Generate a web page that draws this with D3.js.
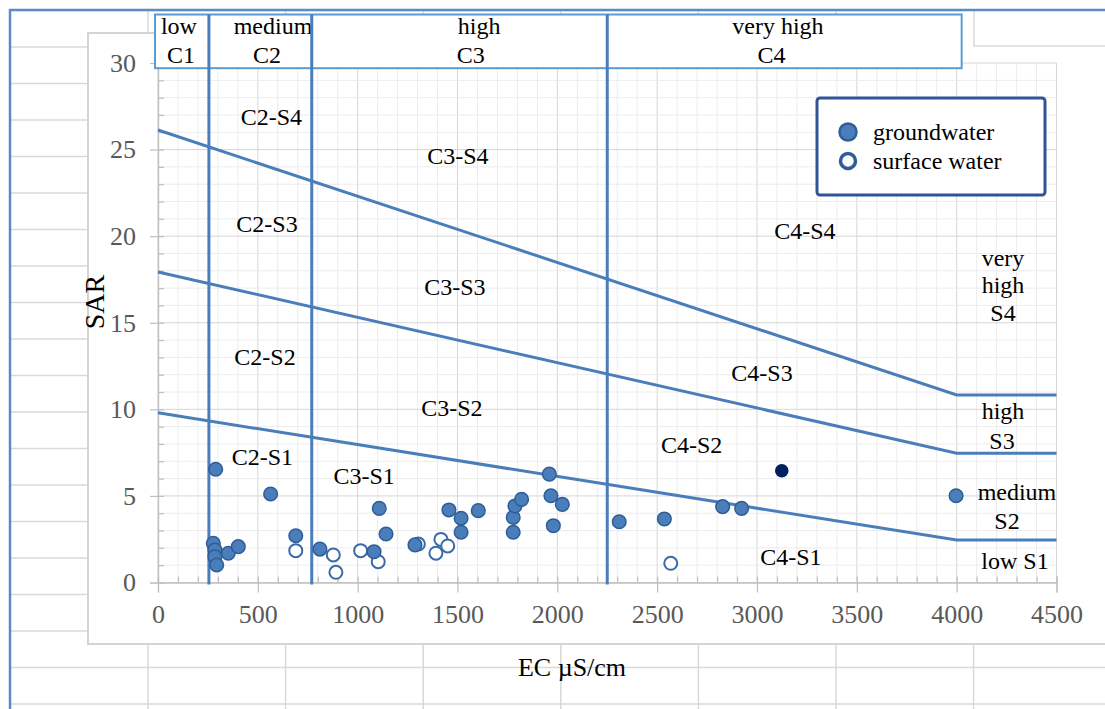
<!DOCTYPE html>
<html>
<head>
<meta charset="utf-8">
<script src="https://cdn.jsdelivr.net/npm/d3@7"></script>
<style>
  body { margin: 0; background: #fff; }
  svg { display: block; }
  text { font-family: "Liberation Serif", "Times New Roman", serif; }
</style>
</head>
<body>
<svg id="chart" width="1105" height="709"></svg>
<script>
// 数据：EC (µS/cm), SAR
const groundwater = [
  [289, 6.54], [564, 5.11], [690, 2.70], [811, 1.93],
  [277, 2.26], [285, 1.88], [285, 1.49], [294, 1.01], [352, 1.69], [402, 2.07],
  [1082, 1.78], [1108, 4.28], [1142, 2.80], [1287, 2.17],
  [1457, 4.19], [1518, 3.71], [1518, 2.90], [1604, 4.15],
  [1779, 3.76], [1788, 4.42], [1821, 4.80], [1779, 2.90],
  [1960, 6.26], [1968, 5.01], [2025, 4.51], [1980, 3.28],
  [2310, 3.51], [2536, 3.67], [2828, 4.38], [2923, 4.28], [3997, 5.01]
];
const surfaceWater = [
  [690, 1.84], [878, 1.59], [891, 0.59], [1015, 1.84], [1103, 1.20],
  [1304, 2.22], [1392, 1.69], [1417, 2.49], [1451, 2.11], [2568, 1.11]
];
const highlighted = [[3124, 6.45]];

// 分区边界线
const lineS1S2 = [[0, 9.8], [4000, 2.45], [4500, 2.45]];
const lineS2S3 = [[0, 17.93], [4000, 7.46], [4500, 7.46]];
const lineS3S4 = [[0, 26.13], [4000, 10.83], [4500, 10.83]];
const ecBounds = [255, 770, 2250];

// 顶部盐度等级框
const classBoxEC = [-15, 4025];
const classBoxSAR = [29.7, 32.8];
const classLabels = [
  ["low", 105, 1], ["C1", 115, 2],
  ["medium", 576, 1], ["C2", 546, 2],
  ["high", 1608, 1], ["C3", 1566, 2],
  ["very high", 3105, 1], ["C4", 3073, 2]
];

// 区域标签
const zoneLabels = [
  ["C2-S4", 568, 26.9], ["C2-S3", 546, 20.7], ["C2-S2", 536, 13.02], ["C2-S1", 523, 7.26],
  ["C3-S4", 1502, 24.68], ["C3-S3", 1487, 17.06], ["C3-S2", 1472, 10.08], ["C3-S1", 1032, 6.2],
  ["C4-S4", 3240, 20.35], ["C4-S3", 3025, 12.15], ["C4-S2", 2673, 7.94], ["C4-S1", 3170, 1.47],
  ["very", 4232, 18.79], ["high", 4232, 17.18], ["S4", 4232, 15.56],
  ["high", 4232, 9.90], ["S3", 4227, 8.17],
  ["medium", 4302, 5.23], ["S2", 4252, 3.55], ["low S1", 4292, 1.24]
];

const legendItems = ["groundwater", "surface water"];
const xTickValues = d3.range(0, 4501, 500);
const yTickValues = d3.range(0, 31, 5);

const svg = d3.select("#chart");
const x = d3.scaleLinear().domain([0, 4500]).range([158, 1056.5]);
const y = d3.scaleLinear().domain([0, 30]).range([582.5, 63]);

//表格背景
const sheet = svg.append("g");
d3.range(0, 20).forEach(k => {
  sheet.append("line").attr("x1", 10).attr("x2", 1105)
    .attr("y1", 10.5 + 36.5 * k).attr("y2", 10.5 + 36.5 * k)
    .style("stroke", "#d9d9d9").style("stroke-width", 1.5);
});
d3.range(0, 8).forEach(k => {
  sheet.append("line").attr("y1", 10).attr("y2", 709)
    .attr("x1", 148 + 137.6 * k).attr("x2", 148 + 137.6 * k)
    .style("stroke", "#d9d9d9").style("stroke-width", 1.5);
});
// 图表区域
svg.append("rect")
  .attr("x", 88).attr("y", 33).attr("width", 1040).attr("height", 611)
  .style("fill", "#fff").style("stroke", "#d4d4d4").style("stroke-width", 2);
// 右上角单元格
svg.append("rect").attr("x", 962).attr("y", 11).attr("width", 150).attr("height", 35)
  .style("fill", "#fff");
svg.append("path").attr("d", "M974,10 L974,46 L1105,46")
  .style("fill", "none").style("stroke", "#d9d9d9").style("stroke-width", 1.5);
// 外框
svg.append("path").attr("d", "M10,709 L10,10 L1105,10")
  .style("fill", "none").style("stroke", "#5b8ac4").style("stroke-width", 2.5);

//网格线
const grid = svg.append("g");
grid.selectAll(".vminor").data(d3.range(0, 4501, 100)).enter().append("line")
  .attr("x1", d => x(d)).attr("x2", d => x(d)).attr("y1", y(30)).attr("y2", y(0))
  .style("stroke", d => d % 500 === 0 ? "#d6d6d6" : "#ececec").style("stroke-width", 1);
grid.selectAll(".hminor").data(d3.range(0, 31, 1)).enter().append("line")
  .attr("x1", x(0)).attr("x2", x(4500)).attr("y1", d => y(d)).attr("y2", d => y(d))
  .style("stroke", d => d % 5 === 0 ? "#d6d6d6" : "#ececec").style("stroke-width", 1);

//坐标轴
function styleAxis(g) {
  g.select(".domain").style("stroke", "#bfbfbf").style("stroke-width", 1.2);
  g.selectAll(".tick line").style("stroke", "#bfbfbf").style("stroke-width", 1.2);
  g.selectAll("text").style("font-family", "Liberation Serif, serif")
    .style("font-size", "26px").style("fill", "#595959");
}
svg.append("g").attr("transform", `translate(${x(0)},0)`)
  .call(d3.axisRight(y).ticks(30).tickSize(6).tickFormat("")).call(styleAxis);
svg.append("g").attr("transform", `translate(0,${y(0)})`)
  .call(d3.axisTop(x).tickValues(d3.range(0, 4501, 100)).tickSize(6).tickFormat("")).call(styleAxis);
svg.append("g").attr("transform", `translate(${x(0)},0)`)
  .call(d3.axisLeft(y).tickValues(yTickValues).tickSize(8).tickPadding(14).tickFormat(d3.format("d")))
  .call(styleAxis);
svg.append("g").attr("transform", `translate(0,${y(0)})`)
  .call(d3.axisBottom(x).tickValues(xTickValues).tickSize(10).tickPadding(12).tickFormat(d3.format("d")))
  .call(styleAxis);

//顶部等级框
const boxColor = "#5b9bd5";
const lineColor = "#4a7ebb";
svg.append("rect")
  .attr("x", x(classBoxEC[0])).attr("y", y(classBoxSAR[1]))
  .attr("width", x(classBoxEC[1]) - x(classBoxEC[0]))
  .attr("height", y(classBoxSAR[0]) - y(classBoxSAR[1]))
  .style("fill", "#fff").style("stroke", boxColor).style("stroke-width", 2);
svg.selectAll(".class-label").data(classLabels).enter().append("text")
  .attr("class", "class-label")
  .attr("x", d => x(d[1]))
  .attr("y", d => d[2] === 1 ? 34 : 63)
  .text(d => d[0])
  .style("text-anchor", "middle").style("font-size", "24px").style("fill", "#000");

//分区线
svg.selectAll(".ec-bound").data(ecBounds).enter().append("line")
  .attr("x1", d => x(d)).attr("x2", d => x(d))
  .attr("y1", y(classBoxSAR[1])).attr("y2", y(0) + 2)
  .style("stroke", lineColor).style("stroke-width", 3);
const line = d3.line().x(d => x(d[0])).y(d => y(d[1]));
[lineS1S2, lineS2S3, lineS3S4].forEach(l => {
  svg.append("path").attr("d", line(l))
    .style("fill", "none").style("stroke", lineColor).style("stroke-width", 3);
});

//区域标签
svg.selectAll(".zone-label").data(zoneLabels).enter().append("text")
  .attr("class", "zone-label")
  .attr("x", d => x(d[1])).attr("y", d => y(d[2]))
  .attr("dy", "0.35em")
  .text(d => d[0])
  .style("text-anchor", "middle").style("font-size", "24px").style("fill", "#000");

//散点
svg.selectAll(".sw").data(surfaceWater).enter().append("circle")
  .attr("cx", d => x(d[0])).attr("cy", d => y(d[1])).attr("r", 6.5)
  .style("fill", "#fff").style("stroke", "#3b6aa8").style("stroke-width", 2);
svg.selectAll(".gw").data(groundwater).enter().append("circle")
  .attr("cx", d => x(d[0])).attr("cy", d => y(d[1])).attr("r", 6.8)
  .style("fill", "#4a7ebb").style("stroke", "#2f5d96").style("stroke-width", 1.5);
svg.selectAll(".hl").data(highlighted).enter().append("circle")
  .attr("cx", d => x(d[0])).attr("cy", d => y(d[1])).attr("r", 6.8)
  .style("fill", "#002060");

//图例
const legend = svg.append("g").attr("transform", "translate(817,98)");
legend.append("rect").attr("width", 228).attr("height", 97).attr("rx", 3)
  .style("fill", "#fff").style("stroke", "#2f5597").style("stroke-width", 3);
legendItems.forEach((name, i) => {
  const cy = 34 + i * 29;
  legend.append("circle").attr("cx", 31).attr("cy", cy).attr("r", i === 0 ? 8.5 : 7.5)
    .style("fill", i === 0 ? "#4a7ebb" : "#fff")
    .style("stroke", "#2f5d96").style("stroke-width", i === 0 ? 2.5 : 3.5);
  legend.append("text").attr("x", 56).attr("y", cy).attr("dy", "0.35em")
    .text(name).style("font-size", "24px").style("fill", "#000");
});

//坐标轴标题
svg.append("text").attr("x", 572).attr("y", 667).attr("dy", "0.35em")
  .text("EC µS/cm").style("text-anchor", "middle").style("font-size", "26px").style("fill", "#000");
svg.append("text").attr("transform", "translate(94,302) rotate(-90)").attr("dy", "0.35em")
  .text("SAR").style("text-anchor", "middle").style("font-size", "28px").style("fill", "#000");
</script>
</body>
</html>
